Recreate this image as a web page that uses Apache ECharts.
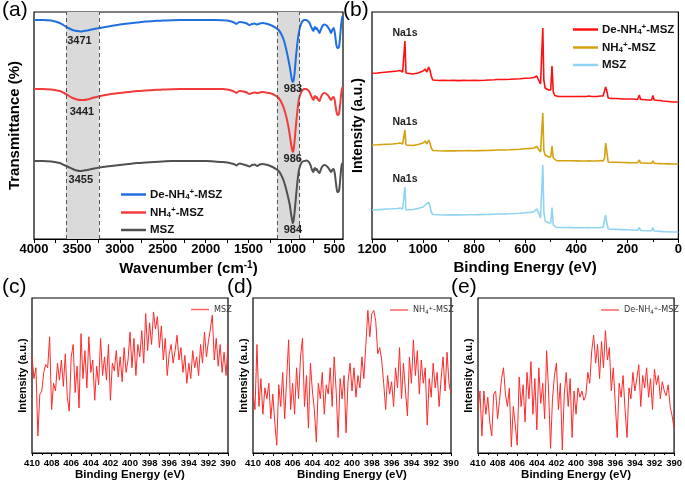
<!DOCTYPE html>
<html><head><meta charset="utf-8">
<script src="https://cdn.jsdelivr.net/npm/echarts@6/dist/echarts.min.js"></script>
<style>html,body{margin:0;padding:0;background:#fff}#c{width:685px;height:482px}</style>
</head><body><div id="c"></div>
<script>
// ---------- (a) FTIR ----------
const ftirWn = [
4000,3900,3800,3700,3650,3600,3550,3500,3460,3420,
3380,3300,3200,3100,3000,2900,2800,2700,2600,2500,
2400,2300,2200,2100,2000,1900,1800,1750,1700,1660,
1640,1620,1600,1560,1520,1490,1460,1430,1400,1370,
1340,1300,1260,1220,1180,1150,1120,1090,1060,1040,
1020,1005,995,985,975,965,955,945,930,915,
900,885,870,850,830,810,790,775,760,745,
735,725,715,705,695,685,675,660,645,630,
615,600,585,570,555,540,525,510,495,485,
475,465,455,445,435,425,415,405];
const ftirDe = [
219,219,218.5,216,213.5,211,209,208,207.5,208,
208.5,210,211.5,213,214.5,215.5,216.5,217.5,218,218.5,
218.8,219,219,219,219,219,218.8,218.5,217.5,216,
215,216.5,217,216.5,215.5,214,215,215.5,214.5,215.5,
216,215.5,214.5,213,211,209,205,199,189,181,
172,164,159,157,159,165,175,185,197,206,
212,216,218,219,219,218,216,213,210,208,
211,212,210,211,209,208,206,209,212,214,
214.5,214,213,211,209,206,209,211,206,199,
193,191,191,193,201,211,219,223];
const ftirNH = [
150,150,149.5,148,146,143.5,141,139.5,139,139,
139.5,141.5,143.5,145,146,147,148,148.5,149,149.5,
149.8,150,150,150,150,150,150,149.5,148.5,147,
146,147.5,148,147.5,146.5,145,146,146.5,146,146.5,
147,146.5,146,145,143,141,137,131,122,114,
104,95,90,87,90,97,107,117,129,139,
144,147,149,150,150,149,147,144,141,139,
142,143,141,142,140,139,138,141,144,145.5,
146,145.5,144.5,143,141,139,141,142,138,132,
127,124,124,126,133,142,149,152];
const ftirMSZ = [
78,78,77.5,76,74,72,70,68.5,68,68.5,
69,70.5,72,73,74,75,76,76.5,77,77.5,
78,78,78,78,78,77.5,77,76.5,75.5,74.5,
73.5,75,75.5,74.5,73.5,72.5,74,74.5,73,74.5,
75,74.5,73.5,72,70,68,64,58,49,42,
34,25,20,16,19,26,35,45,58,68,
73,76,77.5,78,78.5,78,76,73,69,67,
70,71,69,70,68,67,66,69,72,73.5,
74,73.5,72.5,71,69,67,69,70,65,58,
51,47,47,49,57,67,74,76];
const ftirTicks = [4000,3500,3000,2500,2000,1500,1000,500];
const ftirMinorTicks = [3750,3250,2750,2250,1750,1250,750];
const bandRanges = [[3625,3240],[1170,905]];
const ohPeaks = [3471,3441,3455];
const siPeaks = [983,986,984];

// ---------- (b) XPS survey ----------
const surveyE = [
1200,1180,1160,1140,1120,1100,1090,1080,1075,1071,
1067,1060,1040,1020,1000,992,985,978,973,968,
962,955,940,920,900,880,860,840,820,800,
780,760,740,720,712,705,700,680,660,640,
620,600,580,565,555,548,540,535,531,527,
522,515,508,500,495,490,484,478,470,460,
440,420,400,380,360,350,345,340,320,305,
300,295,289,285,281,275,260,240,220,200,
180,160,153,148,140,120,105,100,95,80,
70,65,60,40,20,0];
const surveyDe = [
165.7,166,166.5,167,167.5,168,168.5,167,167,198,
166,165,165,166,168,170,167,172,169,163,
159,158.5,158.5,158.7,158.5,158.6,158.4,158.6,158.5,158.7,
158.5,158.7,159,159.2,159.5,161,159.5,159.5,159.7,160,
160.3,160.7,161,161.5,163,161,155,154,211,159,
151,150,149,149,173,147,143.5,143,142.5,142.5,
142.5,142.5,142.5,142.5,142.5,143,144.5,142.5,142.5,143,
144,143,145,152,149,141,140.5,140.5,140,140,
140,139.5,144,139.5,139.5,139,139,143.5,139,138.5,
138.5,140,138,137.5,137,137];
const surveyNH = [
94,94.2,94.5,94.8,95,95.5,96,95,95,109,
94,93.5,93.5,94.5,96,98,95,99,96,91,
88.5,88,88.2,88,88.3,88.1,88.3,88.2,88.4,88.3,
88.4,88.5,88.6,88.8,89,90.5,89,89,89.2,89.5,
89.8,90.2,90.6,91,92.5,91,87,86,126,89,
84,83,82,82,93,81,79,78.5,78.3,78.2,
78.2,78.2,78.1,78,78,78.3,79.5,78,78,78.5,
79,78,81,96,89,77,76.8,76.7,76.5,76.4,
76.3,76.2,79,76,76,75.8,75.7,78,75.6,75.5,
75.4,76.5,75.2,75.1,75,75];
const surveyMSZ = [
29,29.3,29.6,30,30.2,30.5,31,30,30,52,
29,29,29.5,30.5,32,34,32,37,33,27,
24.5,24,24.2,24,24.3,24.1,24.2,24,24.3,24.2,
24.4,24.5,24.6,24.8,25,26.5,25,25,25.2,25.5,
25.8,26.2,26.6,27.5,30,27,21,20,74,27,
18,17,16,16,31.5,14,12,11.5,11.5,11.5,
11.5,11.4,11.3,11.2,11.2,11.5,12.5,11.3,11.2,11.5,
12.5,11.5,13,24,17,10,9.8,9.6,9.4,9.2,
9,8.8,11.5,8.6,8.5,8.3,8.2,11.5,8,7.8,
7.6,9,7.4,7.2,7,7];
const na1sE = 1071;

// ---------- (c)(d)(e) N1s ----------
const n1sE = [
410.0,409.8,409.6,409.4,409.2,409.0,408.8,408.6,408.4,408.2,
408.0,407.8,407.6,407.4,407.2,407.0,406.8,406.6,406.4,406.2,
406.0,405.8,405.6,405.4,405.2,405.0,404.8,404.6,404.4,404.2,
404.0,403.8,403.6,403.4,403.2,403.0,402.8,402.6,402.4,402.2,
402.0,401.8,401.6,401.4,401.2,401.0,400.8,400.6,400.4,400.2,
400.0,399.8,399.6,399.4,399.2,399.0,398.8,398.6,398.4,398.2,
398.0,397.8,397.6,397.4,397.2,397.0,396.8,396.6,396.4,396.2,
396.0,395.8,395.6,395.4,395.2,395.0,394.8,394.6,394.4,394.2,
394.0,393.8,393.6,393.4,393.2,393.0,392.8,392.6,392.4,392.2,
392.0,391.8,391.6,391.4,391.2,391.0,390.8,390.6,390.4,390.2,
390.0];
const n1sMSZ = [
62,48,55,11,38,40,52,57,55,75,
28,45,40,58,47,60,43,64,36,27,
62,70,39,56,29,77,48,66,42,75,
52,60,34,56,44,74,50,62,47,70,
34,58,53,66,49,62,46,68,52,60,
78,55,74,50,70,62,79,58,90,66,
84,70,91,80,88,68,82,60,74,50,
64,70,58,66,76,60,68,52,63,45,
58,48,66,55,62,50,70,58,78,62,
72,80,89,60,74,56,70,52,65,50,
70];
const n1sNH = [
40,28,70,30,48,25,42,35,45,22,
38,20,5,44,30,52,22,48,73,28,
45,25,55,35,62,74,30,50,16,58,
40,28,7,45,35,52,25,44,38,55,
30,62,40,10,48,35,50,13,46,58,
40,55,36,50,42,62,48,70,92,75,
90,92,85,64,68,60,45,28,50,38,
46,30,55,42,68,35,58,40,24,62,
45,73,50,66,38,60,45,55,18,48,
36,58,42,52,30,48,62,40,65,45,
38];
const n1sDe = [
27,40,11,40,25,36,20,11,38,40,
22,34,48,55,38,30,42,4,30,18,
5,49,30,44,20,52,35,59,25,48,
15,55,32,45,22,66,40,3,35,50,
58,28,45,2,38,52,30,48,10,40,
25,42,36,40,34,37,52,45,66,76,
58,70,48,72,55,79,60,68,40,55,
32,10,45,36,50,28,10,42,35,52,
40,48,57,30,50,42,55,36,48,28,
54,44,50,35,46,40,37,44,30,24,
16];

const FONT = '"Liberation Sans", Arial, sans-serif';
const NARROW = '"Liberation Sans Narrow", "DejaVu Sans Condensed", "Liberation Sans", sans-serif';

const legendText = {
  aDe: 'De-NH{sub|4}{sup|+}-MSZ', aNH: 'NH{sub|4}{sup|+}-MSZ', aM: 'MSZ',
  bDe: 'De-NH{sub|4}{sup|+}-MSZ', bNH: 'NH{sub|4}{sup|+}-MSZ', bM: 'MSZ',
  cM: 'MSZ', dNH: 'NH{sub|4}{sup|+}-MSZ', eDe: 'De-NH{sub|4}{sup|+}-MSZ'
};
function richFor(size, weight, fam) {
  const s = Math.round(size * 0.7);
  return {
    sub: {fontSize: s, fontWeight: weight, fontFamily: fam, verticalAlign: 'top', padding: [Math.round(size*0.45),0,0,0]},
    sup: {fontSize: s, fontWeight: weight, fontFamily: fam, verticalAlign: 'bottom', padding: [0,0,Math.round(size*0.45),0]}
  };
}
function pairs(xs, ys) { return xs.map((x, i) => [x, ys[i]]); }
function extremeNear(xs, ys, x0, half, useMax) {
  let best = null;
  for (let i = 0; i < xs.length; i++) {
    if (Math.abs(xs[i] - x0) <= half) {
      if (best === null || (useMax ? ys[i] > best : ys[i] < best)) best = ys[i];
    }
  }
  return best;
}
const plainNum = v => String(v);

const grids = [
  {left: 34, top: 12, width: 309, height: 227},
  {left: 372, top: 12, width: 307, height: 227},
  {left: 32, top: 298, width: 196, height: 156},
  {left: 253, top: 298, width: 198, height: 156},
  {left: 478, top: 298, width: 197, height: 156}
].map(g => Object.assign(g, {show: true, borderColor: '#000', borderWidth: 1.2, backgroundColor: 'transparent'}));

const bigLabel = {color: '#000', fontFamily: FONT, fontWeight: 'bold', fontSize: 13, formatter: plainNum};
const bigName = {color: '#000', fontFamily: FONT, fontWeight: 'bold', fontSize: 15};

function n1sX(gi) {
  return {
    gridIndex: gi, type: 'value', min: 390, max: 410, interval: 2, inverse: true,
    axisLine: {show: true, lineStyle: {color: '#000', width: 1}},
    axisTick: {show: true, length: 3, lineStyle: {color: '#000'}},
    minorTick: {show: true, splitNumber: 2, length: 2, lineStyle: {color: '#000'}},
    splitLine: {show: false}, minorSplitLine: {show: false},
    axisLabel: {color: '#000', fontFamily: FONT, fontWeight: 'bold', fontSize: 9.5, margin: 5,
      showMinLabel: true, showMaxLabel: true, hideOverlap: false, formatter: plainNum},
    name: 'Binding Energy (eV)', nameLocation: 'middle', nameGap: 16,
    nameTextStyle: {color: '#000', fontFamily: FONT, fontWeight: 'bold', fontSize: 11.5}
  };
}
function plainY(gi, max, name, size, gap) {
  return {
    gridIndex: gi, type: 'value', min: 0, max: max,
    axisLine: {show: false}, axisTick: {show: false}, axisLabel: {show: false}, splitLine: {show: false},
    name: name, nameLocation: 'middle', nameGap: gap,
    nameTextStyle: {color: '#000', fontFamily: FONT, fontWeight: 'bold', fontSize: size}
  };
}

const xAxes = [
  {
    gridIndex: 0, type: 'value', min: 400, max: 4000, inverse: true,
    axisLine: {show: true, lineStyle: {color: '#000', width: 1.2}},
    axisTick: {show: true, length: 4, customValues: ftirTicks.concat(ftirMinorTicks), lineStyle: {color: '#000'}},
    axisLabel: Object.assign({customValues: ftirTicks, margin: 4}, bigLabel),
    splitLine: {show: false},
    name: 'Wavenumber (cm{sup|-1})', nameLocation: 'middle', nameGap: 21,
    nameTextStyle: Object.assign({rich: {sup: {fontSize: 10, fontWeight: 'bold', fontFamily: FONT, verticalAlign: 'bottom', padding: [0,0,7,0]}}}, bigName)
  },
  {
    gridIndex: 1, type: 'value', min: 0, max: 1200, interval: 200, inverse: true,
    axisLine: {show: true, lineStyle: {color: '#000', width: 1.2}},
    axisTick: {show: true, length: 4, lineStyle: {color: '#000'}},
    minorTick: {show: true, splitNumber: 2, length: 3, lineStyle: {color: '#000'}},
    splitLine: {show: false}, minorSplitLine: {show: false},
    axisLabel: Object.assign({margin: 4, showMinLabel: true, showMaxLabel: true}, bigLabel),
    name: 'Binding Energy (eV)', nameLocation: 'middle', nameGap: 21, nameTextStyle: bigName
  },
  n1sX(2), n1sX(3), n1sX(4)
];
const yAxes = [
  plainY(0, 227, 'Transmittance (%)', 15, 12),
  plainY(1, 227, 'Intensity (a.u.)', 14, 7),
  plainY(2, 100, 'Intensity (a.u.)', 11, 4),
  plainY(3, 100, 'Intensity (a.u.)', 11, 4),
  plainY(4, 100, 'Intensity (a.u.)', 11, 4)
];

const peakLabelStyle = {show: true, position: 'bottom', formatter: '{c}', color: '#222', fontFamily: FONT, fontWeight: 'bold', fontSize: 11};
function ftirMarks(ys, k, ohDist) {
  return {symbol: 'circle', symbolSize: 0, silent: true,
    data: [
      {coord: [ohPeaks[k], extremeNear(ftirWn, ys, ohPeaks[k], 150, false)], value: ohPeaks[k], label: {distance: ohDist}},
      {coord: [siPeaks[k], extremeNear(ftirWn, ys, siPeaks[k], 30, false)], value: siPeaks[k], label: {distance: 1}}
    ],
    label: peakLabelStyle};
}

const series = [
  {
    name: 'aM', type: 'line', xAxisIndex: 0, yAxisIndex: 0, showSymbol: false, smooth: 0.3,
    data: pairs(ftirWn, ftirMSZ), lineStyle: {color: '#505050', width: 2}, itemStyle: {color: '#505050'},
    markArea: {silent: true, itemStyle: {color: '#dadada'}, data: bandRanges.map(r => [{xAxis: r[0]}, {xAxis: r[1]}])},
    markLine: {silent: true, symbol: 'none', label: {show: false}, lineStyle: {color: '#555', type: [4, 3], width: 1},
      data: bandRanges.flat().map(v => ({xAxis: v}))},
    markPoint: ftirMarks(ftirMSZ, 2, 3)
  },
  {
    name: 'aNH', type: 'line', xAxisIndex: 0, yAxisIndex: 0, showSymbol: false, smooth: 0.3,
    data: pairs(ftirWn, ftirNH), lineStyle: {color: '#f23c3c', width: 2}, itemStyle: {color: '#f23c3c'},
    markPoint: ftirMarks(ftirNH, 1, 6)
  },
  {
    name: 'aDe', type: 'line', xAxisIndex: 0, yAxisIndex: 0, showSymbol: false, smooth: 0.3,
    data: pairs(ftirWn, ftirDe), lineStyle: {color: '#1f6fe0', width: 2}, itemStyle: {color: '#1f6fe0'},
    markPoint: ftirMarks(ftirDe, 0, 4)
  }
];
const surveySets = [['bDe', surveyDe, '#ff1010'], ['bNH', surveyNH, '#d4a20e'], ['bM', surveyMSZ, '#8fd4f2']];
surveySets.forEach(s => {
  series.push({
    name: s[0], type: 'line', xAxisIndex: 1, yAxisIndex: 1, showSymbol: false,
    data: pairs(surveyE, s[1]), lineStyle: {color: s[2], width: 1.6}, itemStyle: {color: s[2]},
    markPoint: {symbol: 'circle', symbolSize: 0, silent: true,
      data: [{coord: [na1sE, extremeNear(surveyE, s[1], na1sE, 2, true)], value: 'Na1s'}],
      label: {show: true, position: 'top', distance: 2, formatter: 'Na1s', color: '#222', fontFamily: FONT, fontWeight: 'bold', fontSize: 10.5}}
  });
});
[['cM', n1sMSZ, 2], ['dNH', n1sNH, 3], ['eDe', n1sDe, 4]].forEach(s => {
  series.push({
    name: s[0], type: 'line', xAxisIndex: s[2], yAxisIndex: s[2], showSymbol: false,
    data: pairs(n1sE, s[1]), lineStyle: {color: '#ff2a2a', width: 1}, itemStyle: {color: '#ff6060'}
  });
});

function bigLegend(names, left, top) {
  return {
    data: names, orient: 'vertical', left: left, top: top, itemWidth: 25, itemHeight: 2.5, itemGap: 5,
    icon: 'rect', selectedMode: false,
    formatter: n => legendText[n],
    textStyle: {color: '#111', fontFamily: FONT, fontWeight: 'bold', fontSize: 11.5, padding: [0,0,0,-1], rich: richFor(11.5, 'bold', FONT)}
  };
}
function smallLegend(name, left) {
  return {
    data: [name], left: left, top: 300, itemWidth: 18, itemHeight: 1.5, icon: 'rect', selectedMode: false,
    formatter: n => legendText[n],
    textStyle: {color: '#333', fontFamily: NARROW, fontSize: 9, rich: richFor(9, 'normal', NARROW)}
  };
}

const option = {
  animation: false,
  backgroundColor: '#fff',
  grid: grids,
  xAxis: xAxes,
  yAxis: yAxes,
  legend: [
    bigLegend(['aDe', 'aNH', 'aM'], 116, 183),
    bigLegend(['bDe', 'bNH', 'bM'], 568, 18),
    smallLegend('cM', 186), smallLegend('dNH', 385), smallLegend('eDe', 596)
  ],
  graphic: [
    {type: 'text', left: 2, top: 0, style: {text: '(a)', fontSize: 21, fontFamily: FONT, fill: '#000'}},
    {type: 'text', left: 343, top: 0, style: {text: '(b)', fontSize: 21, fontFamily: FONT, fill: '#000'}},
    {type: 'text', left: 2, top: 277, style: {text: '(c)', fontSize: 21, fontFamily: FONT, fill: '#000'}},
    {type: 'text', left: 227, top: 277, style: {text: '(d)', fontSize: 21, fontFamily: FONT, fill: '#000'}},
    {type: 'text', left: 451, top: 277, style: {text: '(e)', fontSize: 21, fontFamily: FONT, fill: '#000'}}
  ],
  series: series
};
echarts.init(document.getElementById('c'), null, {renderer: 'canvas'}).setOption(option);
</script></body></html>
